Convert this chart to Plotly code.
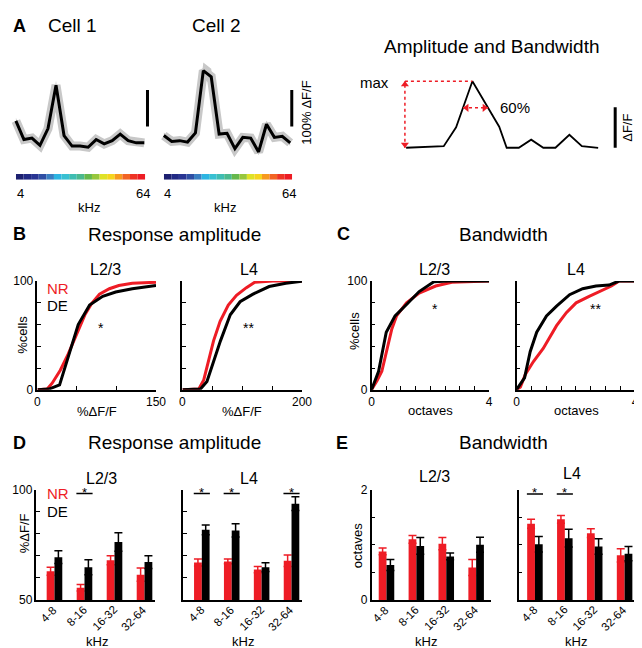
import numpy as np
import plotly.graph_objects as go

W, H = 642, 648
FONT = "Liberation Sans, Arial, Helvetica, sans-serif"
RED = "#ee1c25"
BLACK = "#000000"
GRAY = "#c8c8c8"

# ---------------- data ----------------
tone_idx = list(range(17))
tone_colors = ["#1d2070", "#222a85", "#293593", "#2f4fa4", "#3a7fc2", "#2db5e2",
               "#38c0d2", "#3fbdb2", "#4bb98e", "#66b84c", "#97c73d", "#dfe227",
               "#f5d51f", "#f79a1f", "#f26424", "#ee3424", "#ed1c24"]
freq_tick_labels = ["4", "64"]

cell1_dff = [77, 26, 30, 10, 56, 175, 37, 8, 8, 5, 26, 14, 23, 41, 23, 17, 17]
cell1_sem = [9, 7, 7, 7, 8, 12, 8, 6, 6, 6, 7, 6, 6, 8, 6, 6, 6]
cell2_dff = [37, 21, 23, 19, 44, 215, 198, 41, 43, 1, 32, 30, -8, 68, 32, 35, 17]
cell2_sem = [8, 7, 7, 7, 9, 22, 22, 9, 8, 8, 8, 8, 9, 10, 8, 8, 8]

schem_x = [0, 1.01, 2.05, 3.07, 4.08, 5.41, 7.6, 8.21, 9.2, 10.21, 11.2, 12.19, 13.33, 14.35, 15.68]
schem_y = [0, 0.5, 1.5, 2.4, 30.7, 100, 31.7, 0, 0, 12.2, 0, 0, 19.5, 2.4, 0]
bw_fraction = 0.6

b23_nr_x = [0, 12.4, 18.6, 28.9, 39, 50, 60, 68.2, 78.5, 91, 103, 120, 150]
b23_nr_y = [0, 0.6, 6, 18, 33, 52, 69, 79, 88, 93, 96, 98, 99]
b23_de_x = [0, 14.5, 28, 37.2, 51.6, 66, 82.6, 99, 120, 150]
b23_de_y = [0, 0.6, 4.5, 27, 60, 78, 86, 90, 93, 96]
b4_nr_x = [0, 27.4, 35.6, 43.8, 52, 63, 76.7, 90.4, 107, 121, 151, 200]
b4_nr_y = [0, 0.6, 9, 27, 45, 63, 78, 87, 94, 99, 100, 100]
b4_de_x = [0, 30, 41, 49, 63.6, 80, 96.4, 118, 145, 173, 200]
b4_de_y = [0, 0.6, 7.5, 21, 45, 69, 81, 88, 95, 98, 100]

c23_nr_x = [0, 0.19, 0.35, 0.52, 0.69, 0.85, 1.19, 1.62, 2.18, 2.73, 4]
c23_nr_y = [0, 8.4, 17, 38, 56, 68, 80, 89, 95.5, 99, 100]
c23_de_x = [0, 0.24, 0.5, 0.8, 1.19, 1.62, 2.12, 2.62, 4]
c23_de_y = [0, 17, 53, 68, 78.5, 90.4, 99.4, 100, 100]
c4_nr_x = [0, 0.13, 0.3, 0.57, 0.9, 1.13, 1.35, 1.68, 2.01, 2.45, 2.9, 3.2, 3.45, 4]
c4_nr_y = [0, 2.4, 14.3, 26, 38, 49, 59, 71, 80, 86, 92, 95.5, 100, 100]
c4_de_x = [0, 0.27, 0.46, 0.68, 1.01, 1.35, 1.79, 2.23, 2.68, 3.12, 3.45, 4]
c4_de_y = [0, 11, 35, 53, 68, 77, 87.5, 93, 95.5, 96.4, 100, 100]

categories = ["4-8", "8-16", "16-32", "32-64"]
d23_nr = [63, 55.6, 68, 61.5]
d23_nr_sem = [1.8, 1.5, 2.0, 3.0]
d23_de = [69.4, 64.8, 76.3, 67.2]
d23_de_sem = [2.9, 3.4, 4.2, 2.9]
d23_sig = ["", "*", "", ""]
d4_nr = [67, 67.5, 63.8, 67.8]
d4_nr_sem = [1.6, 1.1, 1.4, 2.6]
d4_de = [81.8, 81.5, 64.9, 93.6]
d4_de_sem = [2.2, 3.0, 2.0, 3.1]
d4_sig = ["*", "*", "", "*"]
e23_nr = [0.88, 1.1, 1.02, 0.59]
e23_nr_sem = [0.06, 0.07, 0.11, 0.145]
e23_de = [0.635, 0.98, 0.79, 1.0]
e23_de_sem = [0.1, 0.15, 0.06, 0.135]
e23_sig = ["", "", "", ""]
e4_nr = [1.38, 1.46, 1.21, 0.81]
e4_nr_sem = [0.08, 0.07, 0.08, 0.12]
e4_de = [1.01, 1.12, 0.97, 0.84]
e4_de_sem = [0.14, 0.16, 0.14, 0.13]
e4_sig = ["*", "*", "", ""]

# ---------------- helpers ----------------
def dx(p0, p1):
    return [p0 / W, p1 / W]

def dy(top, bottom):
    return [1 - bottom / H, 1 - top / H]

def px_x(p):
    return p / W

def px_y(p):
    return 1 - p / H

def ref(i, a):
    return a if i == 1 else f"{a}{i}"

def axname(i, a):
    return f"{a}axis" if i == 1 else f"{a}axis{i}"

fig = go.Figure()
layout = dict(width=W, height=H, margin=dict(l=0, r=0, t=0, b=0),
              paper_bgcolor="white", plot_bgcolor="white", showlegend=False,
              barmode="group", bargap=0.48, bargroupgap=0,
              font=dict(family=FONT, color="black"))
annotations = []
shapes = []

def ann(text, x, y, size, **kw):
    d = dict(text=text, x=px_x(x), y=px_y(y), xref="paper", yref="paper",
             showarrow=False, font=dict(size=size, family=FONT, color=kw.pop("color", "black")),
             xanchor=kw.pop("xanchor", "center"), yanchor=kw.pop("yanchor", "middle"))
    d.update(kw)
    annotations.append(d)

hidden = dict(visible=False, showgrid=False, zeroline=False, fixedrange=True)
base_axis = dict(showline=True, linecolor="black", linewidth=1.5, showgrid=False,
                 zeroline=False, ticks="inside", ticklen=4, tickwidth=1.2,
                 tickcolor="black", tickfont=dict(size=12, family=FONT, color="black"),
                 fixedrange=True)

def set_axes(i, xd, yd, xkw, ykw):
    layout[axname(i, "x")] = dict(domain=xd, anchor=ref(i, "y"), **xkw)
    layout[axname(i, "y")] = dict(domain=yd, anchor=ref(i, "x"), **ykw)

def tr(i, **kw):
    return dict(xaxis=ref(i, "x"), yaxis=ref(i, "y"), **kw)

# ---------------- Panel A: cells ----------------
def cell_panel(i, vals, sem, x_px0, x_step, dom_x, bar_x, cb_i, cb_dom):
    y0px, yscale = 137.0, 0.373
    xr = [(dom_x[0] - x_px0) / x_step, (dom_x[1] - x_px0) / x_step]
    yr = [(y0px - 150) / yscale, (y0px - 40) / yscale]
    set_axes(i, dx(*dom_x), dy(40, 150), dict(hidden, range=xr), dict(hidden, range=yr))
    xs = np.arange(len(vals))
    v = np.array(vals, float)
    s = np.array(sem, float)
    fig.add_trace(go.Scatter(**tr(i, x=np.concatenate([xs, xs[::-1]]),
                                 y=np.concatenate([v + s, (v - s)[::-1]]),
                                 fill="toself", fillcolor=GRAY, mode="lines",
                                 line=dict(width=0, color=GRAY), hoverinfo="skip")))
    fig.add_trace(go.Scatter(**tr(i, x=xs, y=v, mode="lines",
                                 line=dict(color=GRAY, width=9))))
    fig.add_trace(go.Scatter(**tr(i, x=xs, y=v, mode="lines",
                                 line=dict(color=BLACK, width=3))))
    # 100 % dF/F scale bar
    fig.add_trace(go.Scatter(**tr(i, x=[bar_x, bar_x], y=[62, 62 + 100], mode="lines",
                                 line=dict(color=BLACK, width=3))))
    # colour bar of tone frequencies
    set_axes(cb_i, dx(*cb_dom), dy(162.5, 168.5),
             dict(hidden, range=[-0.5, len(tone_idx) - 0.5]), dict(hidden, range=[0, 1]))
    fig.add_trace(go.Bar(**tr(cb_i, x=tone_idx, y=[1] * len(tone_idx), width=1,
                             marker=dict(color=tone_colors, line=dict(width=0)))))

cell_panel(1, cell1_dff, cell1_sem, 5, 8.19, (0, 147), 16.4, 3, (5, 137))
cell_panel(2, cell2_dff, cell2_sem, 156, 8.06, (149, 297), 16.2, 4, (156, 287))

ann("<b>A</b>", 9, 11, 18)
ann("Cell 1", 63, 11, 19)
ann("Cell 2", 210, 11, 19)
ann("100% \u0394F/F", 302, 100, 13, textangle=-90)
for lab_l, lab_r, k in [(10, 135, 80), (160, 284, 218)]:
    ann(freq_tick_labels[0], lab_l, 182, 13)
    ann(freq_tick_labels[1], lab_r, 182, 13)
    ann("kHz", k, 197, 13)

# ---------------- Panel A: schematic ----------------
sx0, sxs, sy0, sys_ = 403.3, 12.5, 135.7, 0.68
set_axes(5, dx(350, 640), dy(55, 145),
         dict(hidden, range=[(350 - sx0) / sxs, (640 - sx0) / sxs]),
         dict(hidden, range=[(sy0 - 145) / sys_, (sy0 - 55) / sys_]))
fig.add_trace(go.Scatter(**tr(5, x=schem_x, y=schem_y, mode="lines",
                             line=dict(color=BLACK, width=1.8))))
sy = np.array(schem_y)
sxa = np.array(schem_x)
pk = int(np.argmax(sy))
ymax = sy[pk]
xa = sxa[0] - 0.1
# max: dotted horizontal + vertical double arrow
fig.add_trace(go.Scatter(**tr(5, x=[xa, sxa[pk]], y=[ymax, ymax], mode="lines",
                             line=dict(color=RED, width=1.5, dash="dot"))))
fig.add_trace(go.Scatter(**tr(5, x=[xa, xa], y=[0, ymax], mode="lines",
                             line=dict(color=RED, width=1.5, dash="dot"))))
fig.add_trace(go.Scatter(**tr(5, x=[xa, xa], y=[ymax - 5, 5], mode="markers",
                             marker=dict(symbol=["triangle-up", "triangle-down"], size=7, color=RED))))
# 60 % bandwidth arrow from the crossings of the curve
yl = bw_fraction * ymax
xl = np.interp(yl, sy[:pk + 1], sxa[:pk + 1])
xr_ = np.interp(yl, sy[pk:pk + 2][::-1], sxa[pk:pk + 2][::-1])
fig.add_trace(go.Scatter(**tr(5, x=[xl, xr_], y=[yl, yl], mode="lines",
                             line=dict(color=RED, width=1.5, dash="dot"))))
fig.add_trace(go.Scatter(**tr(5, x=[xl + 0.3, xr_ - 0.3], y=[yl, yl], mode="markers",
                             marker=dict(symbol=["triangle-left", "triangle-right"], size=7, color=RED))))
# scale bar
fig.add_trace(go.Scatter(**tr(5, x=[17.07, 17.07], y=[0, 61], mode="lines",
                             line=dict(color=BLACK, width=3))))
annotations.append(dict(text=f"{int(bw_fraction * 100)}%", x=7.5, y=yl, xref="x5", yref="y5",
                        showarrow=False, xanchor="left", yanchor="middle",
                        font=dict(size=15, family=FONT, color="black")))
ann("max", 388, 69, 15, xanchor="right")
ann("\u0394F/F", 629, 115, 13, textangle=-90)
ann("Amplitude and Bandwidth", 490, 32, 19)

# ---------------- Panels B & C: cumulative distributions ----------------
def cdf_panel(i, xdom, xmax, xticks, xlabels, show_y, curves, star, star_xy):
    yt = [0, 20, 40, 60, 80, 100]
    ytt = ["0", "", "", "", "", "100"] if show_y else [""] * 6
    set_axes(i, dx(*xdom), dy(272, 383),
             dict(base_axis, range=[0, xmax], tickvals=xticks, ticktext=xlabels),
             dict(base_axis, range=[0, 100], tickvals=yt, ticktext=ytt))
    for xs, ys, col in curves:
        fig.add_trace(go.Scatter(**tr(i, x=xs, y=ys, mode="lines",
                                     line=dict(color=col, width=3))))
    annotations.append(dict(text=star, x=star_xy[0], y=star_xy[1], xref=ref(i, "x"),
                            yref=ref(i, "y"), showarrow=False, yshift=-3,
                            font=dict(size=14, family=FONT, color="black")))

cdf_panel(6, (27, 148), 150, [0, 50, 100, 150], ["0", "", "", "150"], True,
          [(b23_nr_x, b23_nr_y, RED), (b23_de_x, b23_de_y, BLACK)], "*", (80.6, 60))
cdf_panel(7, (175, 297), 200, [0, 50, 100, 150, 200], ["0", "", "", "", "200"], False,
          [(b4_nr_x, b4_nr_y, RED), (b4_de_x, b4_de_y, BLACK)], "**", (111, 60))
oct_t = [0, 0.5, 1, 1.5, 2, 2.5, 3, 3.5, 4]
oct_l = ["0", "", "", "", "", "", "", "", "4"]
cdf_panel(8, (368, 488), 4, oct_t, oct_l, True,
          [(c23_nr_x, c23_nr_y, RED), (c23_de_x, c23_de_y, BLACK)], "*", (2.17, 77))
cdf_panel(9, (516, 637), 4, oct_t, oct_l, False,
          [(c4_nr_x, c4_nr_y, RED), (c4_de_x, c4_de_y, BLACK)], "**", (2.68, 77))

ann("<b>B</b>", 9, 224, 18)
ann("Response amplitude", 167, 224, 19)
ann("<b>C</b>", 339, 224, 18)
ann("Bandwidth", 503, 224, 19)
ann("L2/3", 96, 260, 16)
ann("L4", 243, 260, 16)
ann("L2/3", 432, 260, 16)
ann("L4", 577, 260, 16)
ann("NR", 35, 279.5, 15, xanchor="left", color=RED)
ann("DE", 35, 296.5, 15, xanchor="left")
ann("%\u0394F/F", 88, 405, 13)
ann("%\u0394F/F", 236, 405, 13)
ann("octaves", 428, 404, 13)
ann("octaves", 577, 404, 13)
ann("%cells", 12, 327, 13, textangle=-90)
ann("%cells", 350, 323, 13, textangle=-90)

# ---------------- Panels D & E: bars ----------------
def bar_panel(i, xdom, xr, yr, yt, ytt, nr, nr_sem, de, de_sem, sig, sig_y):
    xs = list(range(len(categories)))
    set_axes(i, dx(*xdom), dy(485, 598),
             dict(base_axis, range=xr, tickvals=xs, ticks="", showticklabels=False),
             dict(base_axis, range=yr, tickvals=yt, ticktext=ytt))
    fig.add_trace(go.Bar(**tr(i, x=xs, y=nr, marker=dict(color=RED, line=dict(width=0)),
                             error_y=dict(type="data", array=nr_sem, color=RED,
                                          thickness=1.5, width=4))))
    fig.add_trace(go.Bar(**tr(i, x=xs, y=de, marker=dict(color=BLACK, line=dict(width=0)),
                             error_y=dict(type="data", array=de_sem, color=BLACK,
                                          thickness=1.5, width=4))))
    for k, lab in enumerate(categories):
        annotations.append(dict(text=lab, x=k, y=px_y(600), xref=ref(i, "x"), yref="paper",
                                showarrow=False, textangle=-45, xanchor="right",
                                yanchor="top", xshift=6, borderpad=0,
                                font=dict(size=11.5, family=FONT, color="black")))
    for k, s in enumerate(sig):
        if s:
            shapes.append(dict(type="line", xref=ref(i, "x"), yref=ref(i, "y"),
                               x0=k - 0.27, x1=k + 0.27, y0=sig_y, y1=sig_y,
                               line=dict(color="black", width=1.5)))
            annotations.append(dict(text=s, x=k, y=sig_y, xref=ref(i, "x"), yref=ref(i, "y"),
                                    showarrow=False, yanchor="bottom", yshift=-8,
                                    font=dict(size=13, family=FONT, color="black")))

d_t = [50, 60, 70, 80, 90, 100]
bar_panel(10, (26, 147), [-0.6, 3.35], [50, 100], d_t, ["50", "", "", "", "", "100"],
          d23_nr, d23_nr_sem, d23_de, d23_de_sem, d23_sig, 98.2)
bar_panel(11, (176, 297), [-0.615, 3.35], [50, 100], d_t, [""] * 6,
          d4_nr, d4_nr_sem, d4_de, d4_de_sem, d4_sig, 98.2)
e_t = [0, 0.5, 1, 1.5, 2]
bar_panel(12, (368, 490), [-0.5, 3.5], [0, 2], e_t, ["0", "", "", "", "2"],
          e23_nr, e23_nr_sem, e23_de, e23_de_sem, e23_sig, 1.92)
bar_panel(13, (518, 640), [-0.55, 3.45], [0, 2], e_t, [""] * 5,
          e4_nr, e4_nr_sem, e4_de, e4_de_sem, e4_sig, 1.92)

ann("<b>D</b>", 9, 437, 18)
ann("Response amplitude", 167, 437, 19)
ann("<b>E</b>", 338, 437, 18)
ann("Bandwidth", 503, 437, 19)
ann("L2/3", 92, 474, 16)
ann("L4", 243, 474, 16)
ann("L2/3", 432, 472, 16)
ann("L4", 573, 469, 16)
ann("NR", 35, 489.5, 15, xanchor="left", color=RED)
ann("DE", 35, 507, 15, xanchor="left")
ann("%\u0394F/F", 14, 530, 13, textangle=-90)
ann("octaves", 353, 542, 13, textangle=-90)
ann("kHz", 88, 640, 13)
ann("kHz", 237, 640, 13)
ann("kHz", 424, 640, 13)
ann("kHz", 577, 640, 13)

layout["annotations"] = annotations
layout["shapes"] = shapes
fig.update_layout(**layout)
fig.write_html("out.html")
